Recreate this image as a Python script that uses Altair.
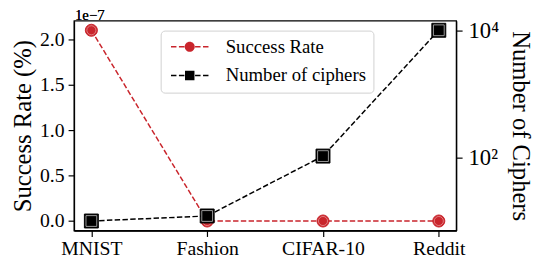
import altair as alt
import pandas as pd

datasets = ["MNIST", "Fashion", "CIFAR-10", "Reddit"]
success_rate = [2.1e-7, 0.0, 0.0, 0.0]
num_ciphers = [10, 12, 105, 10000]
series_names = ["Success Rate", "Number of ciphers"]

RED = "#c9252c"
FONT = "Liberation Serif"

df = pd.DataFrame({"Dataset": datasets, "rate": success_rate, "ciphers": num_ciphers})
leg_df = pd.DataFrame({"series": series_names})

x_enc = alt.X(
    "Dataset:N", sort=datasets,
    scale=alt.Scale(type="point", domain=datasets, padding=0.15),
    axis=alt.Axis(title=None, labelAngle=0, labelFont=FONT, labelFontSize=20,
                  labelColor="black", tickColor="black", tickSize=6, tickWidth=1.2,
                  domainColor="black", domainWidth=1.3, labelPadding=2, grid=False),
)

base = alt.Chart(df).encode(x=x_enc)

y_left = alt.Y(
    "sr:Q",
    scale=alt.Scale(domain=[-0.105, 2.205], nice=False, zero=False),
    axis=alt.Axis(title="Success Rate (%)", values=[0, 0.5, 1.0, 1.5, 2.0], format=".1f",
                  labelFont=FONT, labelFontSize=20, labelColor="black",
                  titleFont=FONT, titleFontSize=25, titleFontWeight="normal", titleColor="black",
                  tickColor="black", tickSize=6, tickWidth=1.2, domainColor="black",
                  domainWidth=1.3, grid=False, labelPadding=4, titlePadding=4),
)
y_right = alt.Y(
    "ciphers:Q",
    scale=alt.Scale(type="log", domain=[10 ** 0.85, 10 ** 4.15], nice=False),
    axis=alt.Axis(title="Number of Ciphers", orient="right", values=[100, 10000],
                  labelExpr="datum.value == 100 ? '10²' : '10⁴'",
                  labelFont=FONT, labelFontSize=23, labelColor="black",
                  titleFont=FONT, titleFontSize=25, titleFontWeight="normal", titleColor="black",
                  tickColor="black", tickSize=6, tickWidth=1.2, domainColor="black",
                  domainWidth=1.3, grid=False, labelPadding=6, titlePadding=9),
)

red = base.transform_calculate(sr="datum.rate * 1e7")
red_line = red.mark_line(color=RED, strokeWidth=1.5, strokeDash=[5.5, 2.4]).encode(y=y_left)
red_pts = red.mark_point(filled=True, shape="circle", size=150, color=RED, opacity=1,
                         stroke=RED, strokeWidth=1).encode(y=alt.Y("sr:Q"))
red_ring = red.mark_point(filled=False, shape="circle", size=85, color="#eaa0a0", opacity=1,
                          strokeWidth=0.7).encode(y=alt.Y("sr:Q"))
red_layer = alt.layer(red_line, red_pts, red_ring)

blk_line = base.mark_line(color="black", strokeWidth=1.5, strokeDash=[5.5, 2.4]).encode(y=y_right)
blk_pts = base.mark_point(filled=True, shape="square", size=200, color="black", opacity=1,
                          stroke="black", strokeWidth=1).encode(y=alt.Y("ciphers:Q"))
blk_ring = base.mark_point(filled=False, shape="square", size=120, color="#aaaaaa", opacity=1,
                           strokeWidth=0.9).encode(y=alt.Y("ciphers:Q"))
blk_layer = alt.layer(blk_line, blk_pts, blk_ring)

circ_path = ("M-3.17,-0.13H-2.25V0.13H-3.17Z M-1.83,-0.13H-0.9V0.13H-1.83Z "
             "M0.9,-0.13H1.83V0.13H0.9Z M2.25,-0.13H3.17V0.13H2.25Z "
             "M-0.85,0A0.85,0.85 0 1,0 0.85,0A0.85,0.85 0 1,0 -0.85,0Z")
sq_path = ("M-3.17,-0.13H-2.25V0.13H-3.17Z M-1.83,-0.13H-0.9V0.13H-1.83Z "
           "M0.9,-0.13H1.83V0.13H0.9Z M2.25,-0.13H3.17V0.13H2.25Z "
           "M-0.8,-0.8H0.8V0.8H-0.8Z")

legend_layer = alt.Chart(leg_df).mark_point(filled=True, opacity=1, clip=True).encode(
    x=alt.value(-500), y=alt.value(-500),
    color=alt.Color("series:N", scale=alt.Scale(domain=series_names, range=[RED, "black"]),
                    legend=alt.Legend(title=None, orient="none", legendX=88, legendY=10,
                                      symbolSize=144, symbolOpacity=1, symbolStrokeWidth=0,
                                      labelFont=FONT, labelFontSize=19, labelColor="black",
                                      strokeColor="#d0d0d0", fillColor="white", padding=7,
                                      cornerRadius=4, rowPadding=9, symbolOffset=13,
                                      labelOffset=27, labelLimit=300)),
    shape=alt.Shape("series:N", scale=alt.Scale(domain=series_names, range=[circ_path, sq_path])),
)

exp_text = alt.Chart(leg_df).mark_text(text="1e−7", font=FONT, fontSize=15, color="black",
                                       align="left", baseline="alphabetic").encode(
    x=alt.value(1), y=alt.value(-1))

chart = alt.layer(red_layer, blk_layer, legend_layer, exp_text).resolve_scale(
    y="independent"
).properties(
    width=388, height=213,
    autosize=alt.AutoSizeParams(type="none"),
    padding={"left": 67, "top": 11, "right": 79, "bottom": 30},
).configure_view(stroke="black", strokeWidth=1.3)

chart.save("out.html", embed_options={"renderer": "svg", "actions": False})
